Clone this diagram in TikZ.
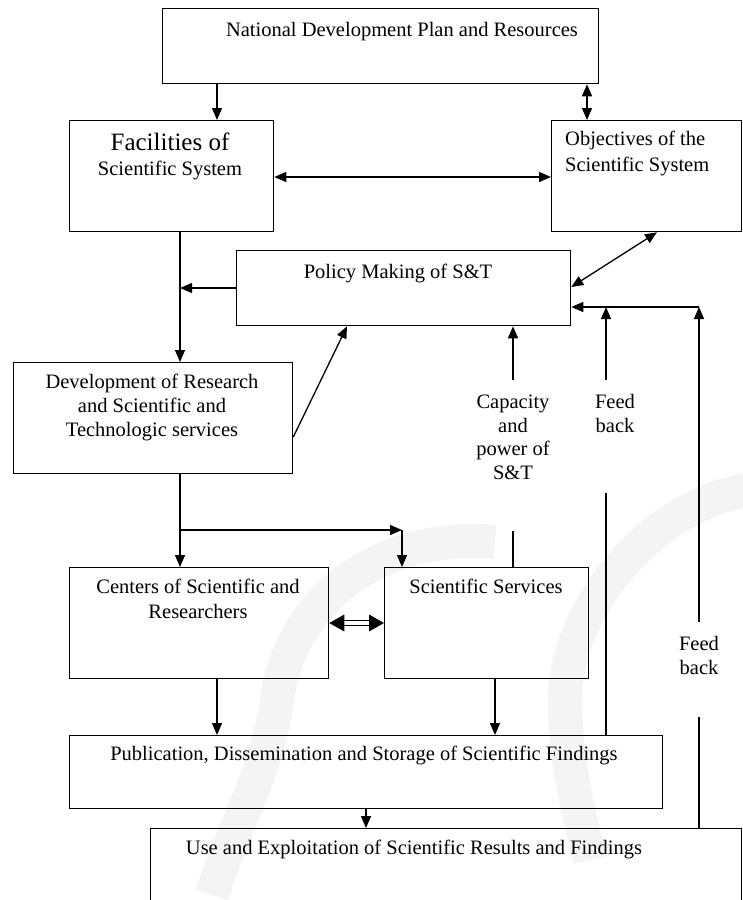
\documentclass[tikz,border=0pt]{standalone}
\usepackage{fontspec}
\setmainfont{Liberation Serif}
\usetikzlibrary{arrows.meta,calc}
\begin{document}
\begin{tikzpicture}[x=1pt,y=-1pt,
  box/.style={draw, line width=1.3pt, inner sep=0pt, anchor=north west},
  txt/.style={inner sep=0pt, anchor=base, font=\fontsize{20.5pt}{24pt}\selectfont},
  bigtxt/.style={inner sep=0pt, anchor=base, font=\fontsize{25pt}{28pt}\selectfont},
  ln/.style={line width=1.3pt},
  arr/.style={ln, -{Triangle[length=12pt,width=10pt]}},
  darr/.style={ln, {Triangle[length=12pt,width=10pt]}-{Triangle[length=12pt,width=10pt]}},
  wm/.style={line width=34pt, gray!9}
]
\useasboundingbox (0,0) rectangle (743,900);

% faint watermark
\draw[wm] (495,542) .. controls (380,532) and (290,600) .. (277,700)
          .. controls (268,770) and (232,830) .. (212,895);
\draw[wm] (748,490) .. controls (650,505) and (565,610) .. (565,700)
          .. controls (565,760) and (578,810) .. (590,860);

% boxes
\node[box, minimum width=436pt, minimum height=75pt] (nat) at (162,8) {};
\node[box, minimum width=204pt, minimum height=111pt] (fac) at (69,120) {};
\node[box, minimum width=190pt, minimum height=111pt] (obj) at (551,120) {};
\node[box, minimum width=334pt, minimum height=75pt] (pol) at (236,250) {};
\node[box, minimum width=279pt, minimum height=111pt] (dev) at (13,362) {};
\node[box, minimum width=259pt, minimum height=111pt] (cen) at (69,567) {};
\node[box, minimum width=204pt, minimum height=111pt] (sci) at (384,567) {};
\node[box, minimum width=593pt, minimum height=73pt] (pub) at (69,735) {};
\node[box, minimum width=591pt, minimum height=95pt] (use) at (150,828) {};

% texts
\node[txt] (natT) at (402,36) {National Development Plan and Resources};
\node[bigtxt] (facT1) at (170,150) {Facilities of};
\node[txt] (facT2) at (170,175) {Scientific System};
\node[txt, anchor=base west] (objT1) at (565,145) {Objectives of the};
\node[txt, anchor=base west] (objT2) at (565,171) {Scientific System};
\node[txt] (polT) at (398,278) {Policy Making of S\&T};
\node[txt] (devT1) at (152,388) {Development of Research};
\node[txt] (devT2) at (152,412) {and Scientific and};
\node[txt] (devT3) at (152,436) {Technologic services};
\node[txt] (cenT1) at (198,593) {Centers of Scientific and};
\node[txt] (cenT2) at (198,618) {Researchers};
\node[txt] (sciT) at (486,593) {Scientific Services};
\node[txt] (pubT) at (364,760) {Publication, Dissemination and Storage of Scientific Findings};
\node[txt] (useT) at (414,854) {Use and Exploitation of Scientific Results and Findings};
\node[txt] (capT1) at (513,408) {Capacity};
\node[txt] (capT2) at (513,432) {and};
\node[txt] (capT3) at (513,455) {power of};
\node[txt] (capT4) at (513,479) {S\&T};
\node[txt] (fbAT1) at (615,408) {Feed};
\node[txt] (fbAT2) at (615,432) {back};
\node[txt] (fbBT1) at (699,650) {Feed};
\node[txt] (fbBT2) at (699,674) {back};

% helper coordinates
\coordinate (xA) at (217,0);
\coordinate (xB) at (587,0);
\coordinate (xD) at (180,0);
\coordinate (xG) at (657,0);
\coordinate (xH) at (347,0);
\coordinate (xS) at (495,0);
\coordinate (xU) at (366,0);
\coordinate (yC) at (0,177);
\coordinate (yE) at (0,288);
\coordinate (yF) at (0,287);
\coordinate (yK) at (0,437);
\coordinate (yM) at (0,623);
\coordinate (yFB) at (0,307);
\coordinate (br) at (180,530);
\coordinate (brR) at (402,530);
\coordinate (capTop) at (513,380);
\coordinate (capBot) at (513,531);
\coordinate (f1Top) at (606,380);
\coordinate (f1Bot) at (606,493);
\coordinate (f2Top) at (699,622);
\coordinate (f2Bot) at (699,717);
\coordinate (fbJoin) at (699,307);

% connectors
\draw[arr] (nat.south -| xA) -- (fac.north -| xA);
\draw[darr] (nat.south -| xB) -- (obj.north -| xB);
\draw[darr] (fac.east |- yC) -- (obj.west |- yC);
\draw[arr] (fac.south -| xD) -- (dev.north -| xD);
\draw[arr] (pol.west |- yE) -- (xD |- yE);
\draw[darr] (pol.east |- yF) -- (obj.south -| xG);
\draw[arr] (dev.east |- yK) -- (pol.south -| xH);
\draw[arr] (dev.south -| xD) -- (cen.north -| xD);
\draw[arr] (br) -- (brR);
\draw[arr] (brR) -- (sci.north -| brR);
% double-line two-headed arrow between the centres and the services
\coordinate (dl) at (cen.east |- yM);
\coordinate (dr) at (sci.west |- yM);
\draw[line width=1.2pt] ($(dl)+(12,-2.4)$) -- ($(dr)+(-12,-2.4)$)
                        ($(dl)+(12,2.4)$) -- ($(dr)+(-12,2.4)$);
\fill (dl) -- ($(dl)+(15,-8.5)$) -- ($(dl)+(15,8.5)$) -- cycle;
\fill (dr) -- ($(dr)+(-15,-8.5)$) -- ($(dr)+(-15,8.5)$) -- cycle;
\draw[arr] (cen.south -| xA) -- (pub.north -| xA);
\draw[arr] (sci.south -| xS) -- (pub.north -| xS);
\draw[arr] (pub.south -| xU) -- (use.north -| xU);
\draw[arr] (capTop) -- (pol.south -| capTop);
\draw[ln] (capBot) -- (sci.north -| capBot);
\draw[arr] (f1Top) -- (f1Top |- yFB);
\draw[ln] (f1Bot) -- (pub.north -| f1Bot);
\draw[arr] (f2Top) -- (fbJoin);
\draw[ln] (f2Bot) -- (use.north -| f2Bot);
\draw[arr] (fbJoin) -- (pol.east |- yFB);
\end{tikzpicture}
\end{document}
